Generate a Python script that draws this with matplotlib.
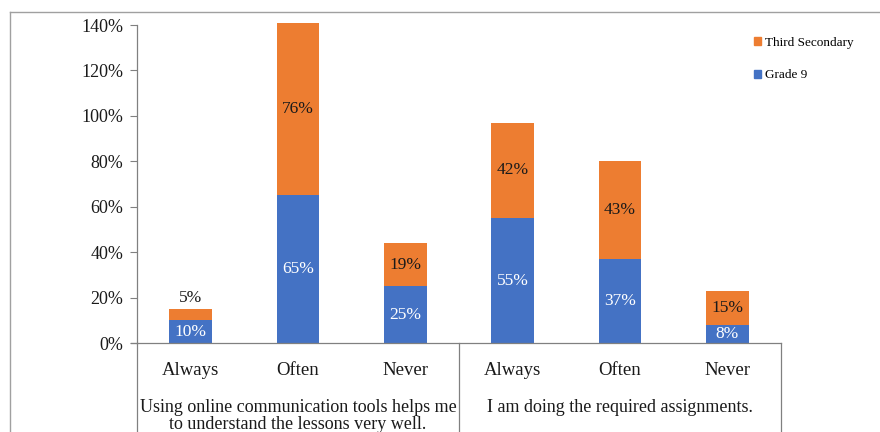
import matplotlib
matplotlib.use("Agg")
import matplotlib.pyplot as plt
from matplotlib.lines import Line2D
from matplotlib.patches import Patch
from matplotlib.ticker import FuncFormatter

plt.rcParams['font.family'] = ['Liberation Serif', 'DejaVu Serif']

categories = ["Always", "Often", "Never", "Always", "Often", "Never"]
groups = ["Using online communication tools helps me\nto understand the lessons very well.",
          "I am doing the required assignments."]
grade9 = [10, 65, 25, 55, 37, 8]
third_secondary = [5, 76, 19, 42, 43, 15]
yticks = [0, 20, 40, 60, 80, 100, 120, 140]

BLUE = "#4472C4"
ORANGE = "#ED7D31"

fig = plt.figure(figsize=(8.8, 4.32), dpi=100)
ax = fig.add_axes([137/880, 1-343/432, (781-137)/880, (343-25)/432])

x = list(range(len(categories)))
w = 0.4
ax.bar(x, grade9, width=w, color=BLUE, clip_on=False, zorder=2)
ax.bar(x, third_secondary, width=w, bottom=grade9, color=ORANGE, clip_on=False, zorder=2)

for xi, g, t in zip(x, grade9, third_secondary):
    ax.text(xi, g/2, f"{g}%", ha='center', va='center', color='white', fontsize=12.5, zorder=3)
    if t < 8:
        ax.text(xi, g + t + 1.5, f"{t}%", ha='center', va='bottom', color='#1a1a1a', fontsize=12.5, zorder=3)
    else:
        ax.text(xi, g + t/2, f"{t}%", ha='center', va='center', color='#1a1a1a', fontsize=12.5, zorder=3)

ax.set_xlim(-0.5, len(categories) - 0.5)
ax.set_ylim(0, 140)
ax.set_yticks(yticks)
ax.yaxis.set_major_formatter(FuncFormatter(lambda v, p: f"{int(v)}%"))
ax.tick_params(axis='y', length=5, width=0.8, color='#808080', labelsize=13, pad=5, labelcolor='#1a1a1a')
ax.set_xticks(x)
ax.set_xticklabels(categories, fontsize=13.5, color='#1a1a1a')
ax.tick_params(axis='x', length=0, pad=14)

for s in ['top', 'right']:
    ax.spines[s].set_visible(False)
for s in ['left', 'bottom']:
    ax.spines[s].set_color('#808080')
    ax.spines[s].set_linewidth(0.9)

# group separators and labels below the axis
trans = ax.get_xaxis_transform()
for sx in [-0.5, 2.5, 5.5]:
    ax.add_line(Line2D([sx, sx], [0, -0.4], transform=trans, color='#808080', lw=0.9, clip_on=False))
ax.add_line(Line2D([-0.56, -0.5], [0, 0], transform=trans, color='#808080', lw=0.9, clip_on=False))

for gi, gl in enumerate(groups):
    ax.text(gi*3 + 1, -0.175, gl, transform=trans, ha='center', va='top', fontsize=13,
            color='#1a1a1a', linespacing=1.0, clip_on=False)

# legend
handles = [Patch(color=ORANGE, label="Third Secondary"), Patch(color=BLUE, label="Grade 9")]
fig.legend(handles=handles, loc='upper left', bbox_to_anchor=(754/880, 1-37/432),
           frameon=False, fontsize=9.5, handlelength=0.55, handleheight=0.55,
           handletextpad=0.25, labelspacing=1.55, borderaxespad=0, borderpad=0)

# outer chart border
fig.add_artist(Line2D([10/880, 10/880], [0, 1-12/432], transform=fig.transFigure, color='#a0a0a0', lw=1.0))
fig.add_artist(Line2D([10/880, 1], [1-12/432, 1-12/432], transform=fig.transFigure, color='#a0a0a0', lw=1.0))

fig.savefig("out.png", dpi=100)
